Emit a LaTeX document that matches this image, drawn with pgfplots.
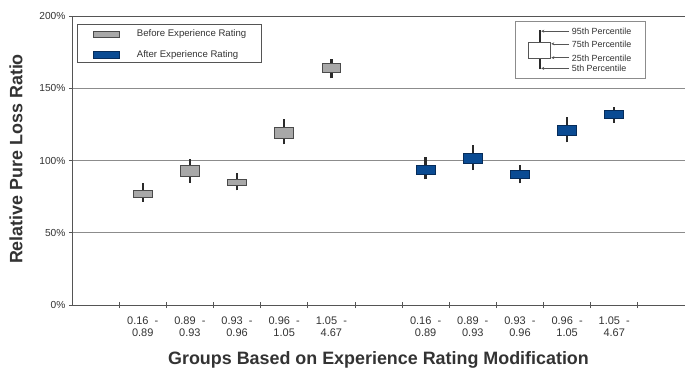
\documentclass[border=0pt]{standalone}
\usepackage{fontspec}
\setmainfont{Liberation Sans}
\usepackage{pgfplots}
\pgfplotsset{compat=1.18}
\usetikzlibrary{arrows.meta}

\definecolor{beforefill}{HTML}{A8A8A8}
\definecolor{beforeedge}{HTML}{4A4A4A}
\definecolor{afterfill}{HTML}{0A4B93}
\definecolor{afteredge}{HTML}{062C5A}
\definecolor{whisk}{HTML}{2A2A2A}
\definecolor{gridc}{HTML}{8C8C8C}
\definecolor{axisc}{HTML}{555555}
\definecolor{textc}{HTML}{333333}

\pgfplotsset{
  whiskerline/.style={draw=whisk, line width=2.4pt, mark=none, forget plot},
  beforebox/.style={fill=beforefill, draw=beforeedge, line width=0.8pt, mark=none, forget plot},
  afterbox/.style={fill=afterfill, draw=afteredge, line width=0.8pt, mark=none, forget plot},
}

\begin{document}
\begin{tikzpicture}
\begin{axis}[
  at={(0pt,0pt)}, anchor=south west,
  scale only axis, width=613pt, height=289pt,
  xmin=-0.5, xmax=12.5, ymin=0, ymax=200,
  axis line style={draw=axisc, line width=0.8pt},
  tick pos=left,
  ytick={0,50,100,150,200},
  yticklabels={0\%,50\%,100\%,150\%,200\%},
  ymajorgrids, grid style={draw=gridc, line width=0.8pt},
  ytick style={draw=axisc, line width=0.8pt},
  ytick align=outside, major tick length=3pt,
  xtick={1,2,3,4,5,7,8,9,10,11},
  xticklabels={{0.16\ \ -\\0.89},{0.89\ \ -\\0.93},{0.93\ \ -\\0.96},{0.96\ \ -\\1.05},{1.05\ \ -\\4.67},
               {0.16\ \ -\\0.89},{0.89\ \ -\\0.93},{0.93\ \ -\\0.96},{0.96\ \ -\\1.05},{1.05\ \ -\\4.67}},
  xtick style={draw=none},
  extra x ticks={0.5,1.5,2.5,3.5,4.5,5.5,6.5,7.5,8.5,9.5,10.5,11.5},
  extra x tick labels={},
  extra x tick style={tick align=center, major tick length=6pt,
    xtick style={draw=axisc, line width=0.8pt}, grid=none},
  tick label style={font=\fontsize{10.2}{12.5}\selectfont, text=textc},
  x tick label style={align=center, yshift=-8pt, font=\fontsize{11}{12.6}\selectfont},
  xlabel={Groups Based on Experience Rating Modification},
  ylabel={Relative Pure Loss Ratio},
  every axis x label/.style={at={(axis description cs:0.5,0)}, anchor=center, yshift=-55pt,
    font=\fontsize{17.9}{21}\selectfont\bfseries, text=textc},
  every axis y label/.style={at={(axis description cs:0,0.5)}, xshift=-56pt, yshift=1.5pt,
    rotate=90, anchor=center, font=\fontsize{17.9}{21}\selectfont\bfseries, text=textc},
]
% before experience rating: 5th-95th percentile whisker, then 25th-75th box
\addplot[whiskerline] coordinates {(1,71.5) (1,84.6)};
\addplot[beforebox] coordinates {(0.8,74.5) (1.2,74.5) (1.2,79.1) (0.8,79.1)} -- cycle;
\addplot[whiskerline] coordinates {(2,84.6) (2,100.8)};
\addplot[beforebox] coordinates {(1.8,88.8) (2.2,88.8) (2.2,96.4) (1.8,96.4)} -- cycle;
\addplot[whiskerline] coordinates {(3,79.4) (3,91.6)};
\addplot[beforebox] coordinates {(2.8,82.8) (3.2,82.8) (3.2,87.2) (2.8,87.2)} -- cycle;
\addplot[whiskerline] coordinates {(4,111.2) (4,128.9)};
\addplot[beforebox] coordinates {(3.8,115.4) (4.2,115.4) (4.2,123.0) (3.8,123.0)} -- cycle;
\addplot[whiskerline] coordinates {(5,156.9) (5,170.2)};
\addplot[beforebox] coordinates {(4.8,160.8) (5.2,160.8) (5.2,167.3) (4.8,167.3)} -- cycle;
% after experience rating
\addplot[whiskerline] coordinates {(7,87.0) (7,102.6)};
\addplot[afterbox] coordinates {(6.8,90.4) (7.2,90.4) (7.2,96.4) (6.8,96.4)} -- cycle;
\addplot[whiskerline] coordinates {(8,93.4) (8,110.7)};
\addplot[afterbox] coordinates {(7.8,97.8) (8.2,97.8) (8.2,105.2) (7.8,105.2)} -- cycle;
\addplot[whiskerline] coordinates {(9,84.2) (9,96.9)};
\addplot[afterbox] coordinates {(8.8,87.7) (9.2,87.7) (9.2,92.9) (8.8,92.9)} -- cycle;
\addplot[whiskerline] coordinates {(10,112.6) (10,130.1)};
\addplot[afterbox] coordinates {(9.8,117.2) (10.2,117.2) (10.2,124.4) (9.8,124.4)} -- cycle;
\addplot[whiskerline] coordinates {(11,126.2) (11,137.0)};
\addplot[afterbox] coordinates {(10.8,129.2) (11.2,129.2) (11.2,134.7) (10.8,134.7)} -- cycle;
\end{axis}

% series legend
\draw[draw=axisc, line width=0.8pt, fill=white] (5.3pt,242.7pt) rectangle (189.7pt,280.7pt);
\draw[draw=beforeedge, line width=0.6pt, fill=beforefill] (21.3pt,267.3pt) rectangle (47.3pt,274pt);
\draw[draw=afteredge, line width=0.6pt, fill=afterfill] (21.3pt,246.7pt) rectangle (47.3pt,254pt);
\node[anchor=west, inner sep=0pt, text=textc, font=\fontsize{9.6}{11}\selectfont] at (64.7pt,270.6pt) {Before Experience Rating};
\node[anchor=west, inner sep=0pt, text=textc, font=\fontsize{9.6}{11}\selectfont] at (64.7pt,250.3pt) {After Experience Rating};

% percentile key
\draw[draw=gridc, line width=0.8pt, fill=white] (443pt,226.7pt) rectangle (573pt,283.3pt);
\draw[draw=whisk, line width=1.6pt] (468pt,236pt) -- (468pt,275pt);
\draw[draw=axisc, line width=0.6pt, fill=white] (456.3pt,246.7pt) rectangle (478.7pt,262.3pt);
\begin{scope}[draw=axisc, line width=0.6pt, -{Stealth[length=3pt,width=3pt]}]
  \draw (497pt,273.8pt) -- (469.2pt,273.8pt);
  \draw (497pt,261.2pt) -- (479.3pt,261.2pt);
  \draw (497pt,247.3pt) -- (479.3pt,247.3pt);
  \draw (497pt,236.6pt) -- (469.2pt,236.6pt);
\end{scope}
\begin{scope}[every node/.style={anchor=west, inner sep=0pt, text=textc, font=\fontsize{8.9}{10}\selectfont}]
  \node at (499.7pt,273.3pt) {95th Percentile};
  \node at (499.7pt,260.5pt) {75th Percentile};
  \node at (499.7pt,247pt) {25th Percentile};
  \node at (499.7pt,236.4pt) {5th Percentile};
\end{scope}

\pgfresetboundingbox
\path (-72pt,-79pt) rectangle (613pt,305pt);
\end{tikzpicture}
\end{document}
